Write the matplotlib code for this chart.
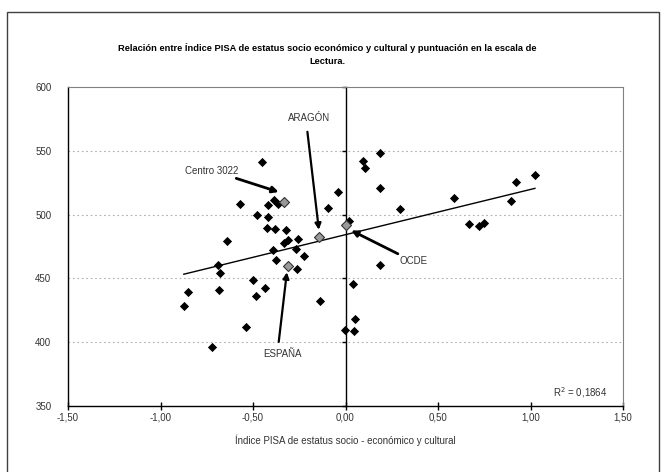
import numpy as np
import matplotlib
matplotlib.use("Agg")
import matplotlib.pyplot as plt
from matplotlib.patches import Rectangle

plt.rcParams['font.family'] = ['Liberation Sans Narrow', 'Liberation Sans', 'DejaVu Sans']

# Schools (index, reading score)
escs = [-0.874, -0.854, -0.719, -0.689, -0.676, -0.683, -0.642, -0.570, -0.539, -0.500,
        -0.482, -0.476, -0.449, -0.437, -0.419, -0.419, -0.424, -0.387, -0.365, -0.379,
        -0.324, -0.392, -0.374, -0.333, -0.311, -0.257, -0.266, -0.226, -0.260, -0.140,
        -0.093, -0.041, 0.018, -0.001, 0.045, 0.054, 0.040, 0.094, 0.108, 0.184,
        0.184, 0.189, 0.297, 0.588, 0.666, 0.723, 0.750, 0.896, 0.923, 1.024]
lectura = [428.1, 439.6, 395.9, 460.8, 454.3, 441.2, 479.7, 508.3, 412.1, 448.8,
           436.0, 500.0, 541.5, 442.3, 507.8, 498.4, 489.5, 511.2, 508.6, 489.0,
           488.1, 471.9, 464.5, 477.6, 480.3, 481.0, 473.2, 467.9, 457.5, 432.0,
           505.1, 517.7, 494.7, 409.5, 408.7, 417.9, 445.4, 541.8, 536.9, 548.6,
           521.1, 460.6, 504.1, 513.3, 492.8, 491.0, 493.3, 510.6, 525.6, 531.4]

# Highlighted points
ref_names = ["Centro 3022", "ARAGÓN", "ESPAÑA", "OCDE"]
ref_escs = [-0.334, -0.144, -0.311, 0.0]
ref_lectura = [509.8, 482.3, 460.1, 491.5]

x_ticks = [-1.5, -1.0, -0.5, 0.0, 0.5, 1.0, 1.5]
x_tick_labels = ["-1,50", "-1,00", "-0,50", "0,00", "0,50", "1,00", "1,50"]
y_ticks = [350, 400, 450, 500, 550, 600]
r2_label = "R$^2$ = 0,1864"

W, H = 665, 472
fig = plt.figure(figsize=(W / 100, H / 100), dpi=100)
fig.patches.append(Rectangle((7 / W, -0.05), (659 - 7) / W, 1.05 - 12 / H,
                             transform=fig.transFigure, fill=False,
                             edgecolor='#404040', lw=1.0))

ax = fig.add_axes([68 / W, 1 - 406 / H, (623 - 68) / W, (406 - 87) / H])
ax.set_xlim(-1.5, 1.5)
ax.set_ylim(350, 600)

for yv in y_ticks[1:-1]:
    ax.axhline(yv, color='#b0b0b0', lw=0.8, ls=(0, (1.5, 2.5)), zorder=0)

ax.scatter(escs, lectura, marker='D', s=22, color='black', zorder=3, linewidths=0)
ax.scatter(ref_escs, ref_lectura, marker='D', s=26, facecolor='#9a9a9a',
           edgecolor='#333333', linewidths=0.8, zorder=4)

# Linear trend line
xa = np.array(escs)
ya = np.array(lectura)
m, b = np.polyfit(xa, ya, 1)
xl = np.array([xa.min(), xa.max()])
ax.plot(xl, m * xl + b, color='black', lw=1.0, zorder=2)

# Spines
ax.spines['left'].set_position(('data', 0))
ax.spines['left'].set_color('black')
ax.spines['left'].set_linewidth(1.0)
ax.spines['bottom'].set_color('black')
ax.spines['bottom'].set_linewidth(1.0)
ax.spines['top'].set_color('#808080')
ax.spines['right'].set_color('#808080')

ax.set_xticks(x_ticks)
ax.set_xticklabels(x_tick_labels)
ax.tick_params(axis='x', direction='inout', length=6, width=1, labelsize=7,
               labelcolor='#333333', pad=2)
ax.set_yticks(y_ticks)
ax.tick_params(axis='y', direction='out', length=3, width=1, labelleft=False)

sec = ax.secondary_yaxis('left')
sec.set_yticks(y_ticks)
sec.tick_params(axis='y', length=0, labelsize=7, labelcolor='#333333', pad=12)
sec.spines['left'].set_color('black')
sec.spines['left'].set_linewidth(1.0)

ax.set_xlabel("Índice PISA de estatus socio - económico y cultural",
              fontsize=7, color='#333333', labelpad=8)

fig.text(0.492, 1 - 48 / H,
         "Relación entre Índice PISA de estatus socio económico y cultural y puntuación en la escala de",
         ha='center', va='center', fontsize=6.7, fontweight='bold')
fig.text(0.492, 1 - 62 / H, "Lectura.", ha='center', va='center',
         fontsize=6.7, fontweight='bold')

arrow = dict(arrowstyle='-|>', color='black', lw=1.6, mutation_scale=9,
             shrinkA=0, shrinkB=0)
ax.annotate("Centro 3022", xy=(-0.361, 517.7), xytext=(-0.577, 534.5),
            ha='right', va='center', fontsize=7, color='#333333',
            arrowprops=dict(arrow, lw=2.0))
ax.annotate("", xy=(-0.144, 488.1), xytext=(-0.206, 564.9), arrowprops=arrow)
ax.text(-0.197, 575.4, ref_names[1], ha='center', va='center', fontsize=7, color='#333333')
ax.annotate("", xy=(-0.317, 454.8), xytext=(-0.361, 400.2), arrowprops=arrow)
ax.text(-0.342, 390.6, ref_names[2], ha='center', va='center', fontsize=7, color='#333333')
ax.annotate("", xy=(0.031, 487.6), xytext=(0.283, 469.3), arrowprops=dict(arrow, lw=2.0))
ax.text(0.292, 463.4, ref_names[3], ha='left', va='center', fontsize=7, color='#333333')

ax.text(1.414, 360.5, r2_label, ha='right', va='center', fontsize=7, color='#333333')

fig.savefig("out.png", dpi=100)
